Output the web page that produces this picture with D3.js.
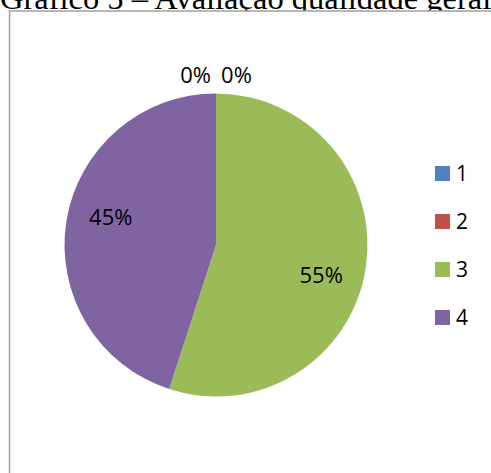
<!DOCTYPE html>
<html>
<head>
<meta charset="utf-8">
<script src="https://cdn.jsdelivr.net/npm/d3@7"></script>
<style>
  html, body { margin: 0; padding: 0; background: #fff; }
  svg { display: block; }
</style>
</head>
<body>
<svg id="chart" width="491" height="473"></svg>
<script>
// Gráfico 5 – Avaliação qualidade geral
const categories = ["1", "2", "3", "4"];
const values = [0, 0, 55, 45];
const colors = ["#4F81BD", "#C0504D", "#9BBB59", "#8064A2"];
const title = "Gráfico 5 – Avaliação qualidade geral";

const svg = d3.select("#chart");

// title (sits partly above the visible area)
svg.append("text")
  .attr("x", 0).attr("y", 9)
  .attr("font-family", "'Liberation Serif', 'Times New Roman', serif")
  .attr("font-size", 32.5)
  .attr("fill", "#000")
  .text(title);

// chart area frame
svg.append("rect")
  .attr("x", 9.5).attr("y", 11)
  .attr("width", 700).attr("height", 700)
  .attr("fill", "#fff")
  .attr("stroke", "#a0a0a0")
  .attr("stroke-width", 1.5);

const cx = 216, cy = 245, R = 151.5;
const total = d3.sum(values);

const pie = d3.pie().sort(null).value(d => d)(values);
const arc = d3.arc().innerRadius(0).outerRadius(R);

const g = svg.append("g").attr("transform", `translate(${cx},${cy})`);

g.selectAll("path.slice")
  .data(pie)
  .join("path")
  .attr("class", "slice")
  .attr("d", arc)
  .attr("fill", (d, i) => colors[i]);

// percentage labels
const fmt = v => Math.round(v / total * 100) + "%";
const labelFont = "'Open Sans', 'Liberation Sans', sans-serif";
let zeroCount = 0;
const zeroIdx = pie.filter(d => d.data === 0).length;
pie.forEach((d, i) => {
  let x, y;
  if (d.data === 0) {
    // empty slices: labels placed above the pie, spread apart
    const k = zeroCount++;
    const spread = 41;
    x = (k - (zeroIdx - 1) / 2) * spread;
    y = -R - 20;
  } else {
    const a = (d.startAngle + d.endAngle) / 2 + 0.11;
    const r = R * 0.72;
    x = r * Math.sin(a);
    y = -r * Math.cos(a);
  }
  g.append("text")
    .attr("x", x).attr("y", y)
    .attr("text-anchor", "middle")
    .attr("dominant-baseline", "central")
    .attr("font-family", labelFont)
    .attr("font-size", 22)
    .attr("fill", "#000")
    .text(fmt(d.data));
});

// legend
const legend = svg.append("g").attr("transform", "translate(435,166)");
const item = legend.selectAll("g")
  .data(categories)
  .join("g")
  .attr("transform", (d, i) => `translate(0,${i * 48})`);
item.append("rect")
  .attr("width", 15).attr("height", 15)
  .attr("fill", (d, i) => colors[i]);
item.append("text")
  .attr("x", 21).attr("y", 15)
  .attr("font-family", labelFont)
  .attr("font-size", 21)
  .attr("fill", "#000")
  .text(d => d);
</script>
</body>
</html>
